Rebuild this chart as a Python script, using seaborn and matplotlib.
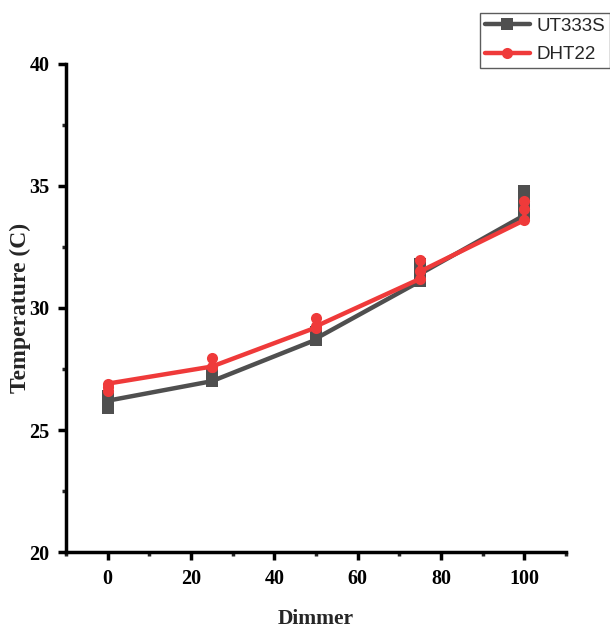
import numpy as np
import pandas as pd
import seaborn as sns
import matplotlib
matplotlib.use("Agg")
import matplotlib.pyplot as plt
from matplotlib.ticker import MultipleLocator

# Data (replicate readings at each dimmer setting, in plotting order)
dimmer = [0, 0, 0, 25, 25, 25, 50, 50, 50, 75, 75, 75, 100, 100, 100]
ut333s = [26.4, 25.9, 26.2, 27.0, 27.25, 27.0, 28.7, 29.0, 28.75, 31.1, 31.8, 31.4, 33.8, 34.8, 34.3]
dht22 = [26.6, 26.75, 26.9, 27.6, 27.95, 27.6, 29.2, 29.6, 29.25, 31.2, 31.95, 31.5, 33.6, 34.4, 34.05]
series_names = ["UT333S", "DHT22"]
xticks = [0, 20, 40, 60, 80, 100]
yticks = [20, 25, 30, 35, 40]

sns.set_style("ticks")
plt.rcParams['font.family'] = ['Liberation Serif', 'DejaVu Serif']

fig = plt.figure(figsize=(6.1, 6.3), dpi=100)
ax = fig.add_axes([66/610, 1-552/630, 500/610, 488/630])

gray = "#4f4f4f"
red = "#ef3a3a"

df1 = pd.DataFrame({"x": dimmer, "y": ut333s})
df2 = pd.DataFrame({"x": dimmer, "y": dht22})

sns.lineplot(data=df1, x="x", y="y", estimator=None, sort=False, ax=ax,
             color=gray, lw=3.2, marker="s", markersize=8, markeredgewidth=0,
             label=series_names[0], zorder=3)
sns.lineplot(data=df2, x="x", y="y", estimator=None, sort=False, ax=ax,
             color=red, lw=3.2, marker="o", markersize=8, markeredgewidth=0,
             label=series_names[1], zorder=4)

ax.set_xlim(-10, 110)
ax.set_ylim(20, 40)
ax.set_xticks(xticks)
ax.set_yticks(yticks)
ax.xaxis.set_minor_locator(MultipleLocator(10))
ax.yaxis.set_minor_locator(MultipleLocator(2.5))

for side in ["top", "right"]:
    ax.spines[side].set_visible(False)
for side in ["left", "bottom"]:
    ax.spines[side].set_linewidth(2.5)
    ax.spines[side].set_color("black")
ax.tick_params(axis="both", which="major", direction="out", length=6, width=2.5,
               labelsize=14.5, colors="black", pad=6)
ax.tick_params(axis="both", which="minor", direction="out", length=3, width=2.5)
for lab in ax.get_xticklabels() + ax.get_yticklabels():
    lab.set_fontweight("bold")

ax.set_xlabel("Dimmer", fontsize=15.5, fontweight="bold", labelpad=15)
ax.set_ylabel("Temperature (C)", fontsize=17, fontweight="bold")
ax.yaxis.set_label_coords(-(66 - 31) / 500, 0.5)

handles, labels = ax.get_legend_handles_labels()
leg = fig.legend(handles, labels, loc="upper left", bbox_to_anchor=(480/610, 1-13/630),
                 prop={"family": "Liberation Sans", "size": 13.5}, frameon=True,
                 fancybox=False, edgecolor="#333333", handlelength=2.4,
                 handletextpad=0.35, borderpad=0.25, labelspacing=0.6, borderaxespad=0)
leg.get_frame().set_linewidth(1.0)
if ax.get_legend():
    ax.get_legend().remove()

fig.savefig("out.png", dpi=100)
